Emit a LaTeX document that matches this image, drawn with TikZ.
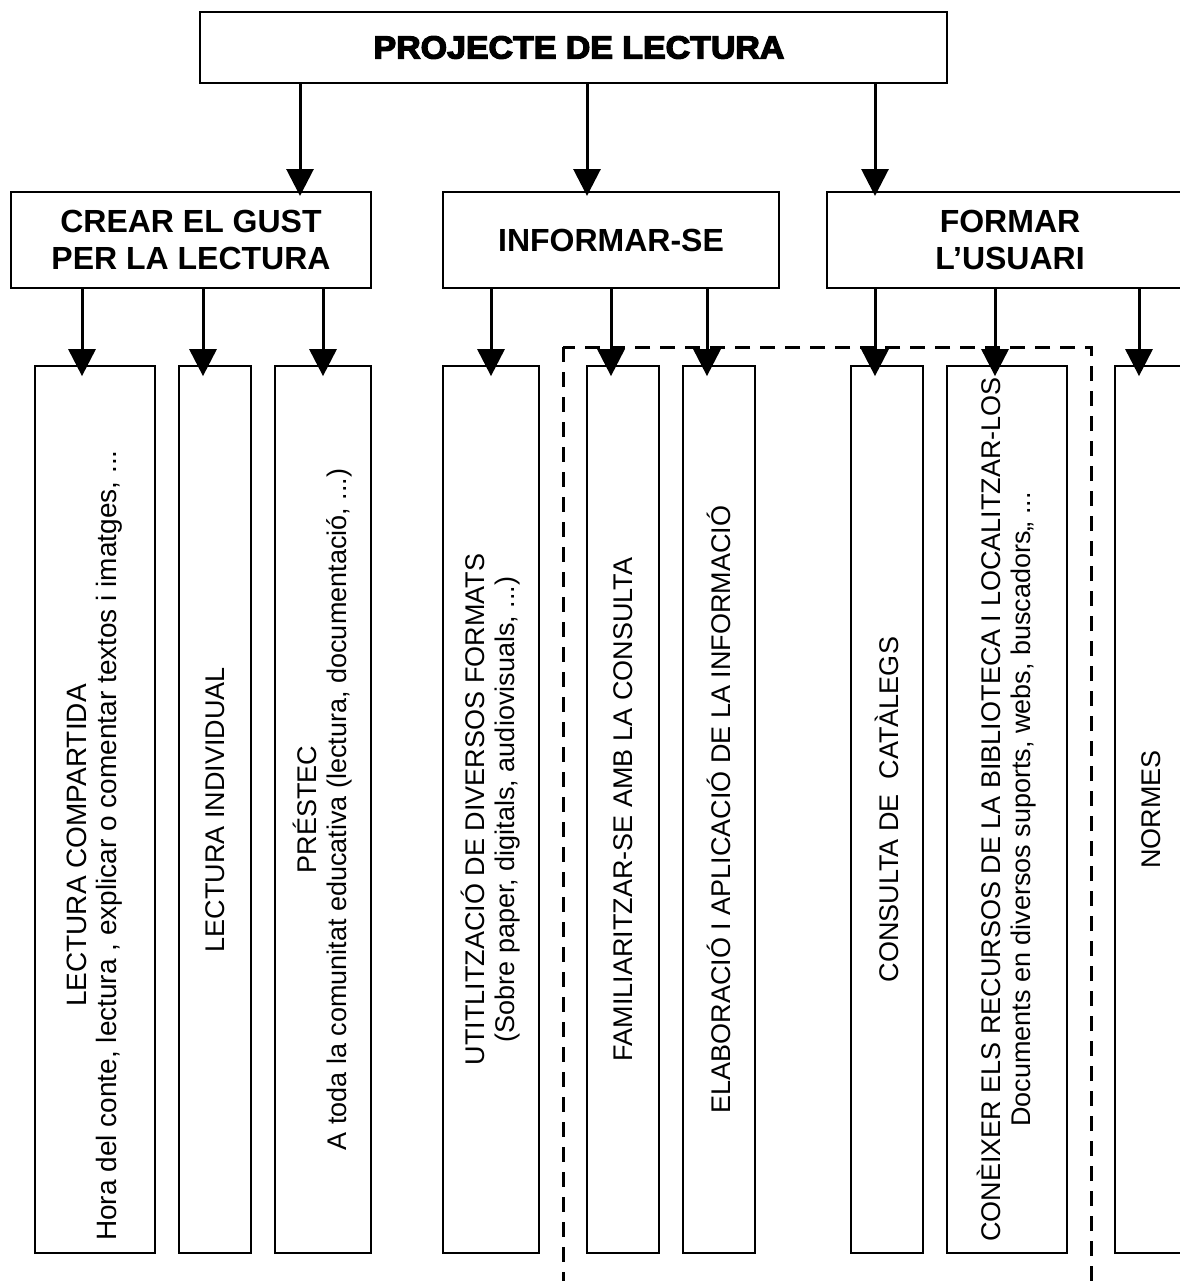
\documentclass[tikz,border=0pt]{standalone}
\usepackage{fontspec}
\setmainfont{Liberation Sans}
\newfontfamily\heavyfont{Liberation Sans}[BoldFeatures={FakeBold=4}]
\usetikzlibrary{arrows.meta,calc}
\begin{document}
\begin{tikzpicture}[x=0.75pt,y=-0.75pt,
  topbox/.style={draw,line width=1.5pt,inner sep=0pt,minimum width=560.25pt,minimum height=53.25pt},
  midbox/.style={draw,line width=1.5pt,inner sep=0pt,minimum height=72pt,align=center,
     font=\fontsize{24pt}{27.75pt}\selectfont\bfseries},
  lowbox/.style={draw,line width=1.3pt,inner sep=0pt,minimum height=665.25pt},
  vtext/.style={rotate=90,inner sep=0pt,align=center,font=\fontsize{20.25pt}{22.5pt}\selectfont},
  arr/.style={line width=2.25pt,-{Triangle[length=20.25pt,width=20.25pt]}},
  grpframe/.style={line width=2.25pt,dash pattern=on 11.25pt off 7.5pt}]
\useasboundingbox (0,0) rectangle (1180,1281);
\clip (0,0) rectangle (1180,1281);
\fill[white] (0,0) rectangle (1180,1281);

% top
\node[topbox] (title) at (573.5,47.5) {};
\node[inner sep=0pt] (titletext) at (579,47.5)
  {\scalebox{1.06}[1]{\fontsize{24pt}{24pt}\selectfont\heavyfont\bfseries PROJECTE DE LECTURA}};

% level 2
\node[midbox,minimum width=270pt] (crear) at (191,240) {CREAR EL GUST\\PER LA LECTURA};
\node[midbox,minimum width=252pt] (info) at (611,240) {INFORMAR-SE};
\node[midbox,minimum width=274.5pt] (formar) at (1010,240) {FORMAR\\L'USUARI};

% level 3 boxes
\node[lowbox,minimum width=90pt] (b1) at (95,809.5) {};
\node[lowbox,minimum width=54pt] (b2) at (215,809.5) {};
\node[lowbox,minimum width=72pt] (b3) at (323,809.5) {};
\node[lowbox,minimum width=72pt] (b4) at (491,809.5) {};
\node[lowbox,minimum width=54pt] (b5) at (623,809.5) {};
\node[lowbox,minimum width=54pt] (b6) at (719,809.5) {};
\node[lowbox,minimum width=54pt] (b7) at (887,809.5) {};
\node[lowbox,minimum width=90pt] (b8) at (1007,809.5) {};
\node[lowbox,minimum width=54pt] (b9) at (1151,809.5) {};

\node[vtext,font=\fontsize{21pt}{22.5pt}\selectfont] (t1) at ($(b1.center)+(0,36)$) {LECTURA COMPARTIDA\\Hora del conte, lectura , explicar o comentar textos i imatges, ...};
\node[vtext] (t2) at (b2.center) {LECTURA INDIVIDUAL};
\node[vtext] (t3) at (b3.center) {PRÉSTEC\\A toda la comunitat educativa (lectura, documentació, ...)};
\node[vtext] (t4) at (b4.center) {UTITLITZACIÓ DE DIVERSOS FORMATS\\(Sobre paper, digitals, audiovisuals, ...)};
\node[vtext] (t5) at (b5.center) {FAMILIARITZAR-SE AMB LA CONSULTA};
\node[vtext] (t6) at (b6.center) {ELABORACIÓ I APLICACIÓ DE LA INFORMACIÓ};
\node[vtext] (t7) at (b7.center) {CONSULTA DE\ \ CATÀLEGS};
\node[vtext] (t8) at (b8.center) {CONÈIXER ELS RECURSOS DE LA BIBLIOTECA I LOCALITZAR-LOS\\Documents en diversos suports, webs, buscadors,, ...};
\node[vtext] (t9) at (b9.center) {NORMES};

% dashed group frame
\coordinate (gtl) at (563,347);
\coordinate (gbr) at (1091,1300);
\draw[grpframe] (gtl) rectangle (gbr);

% arrows level 1 -> 2
\draw[arr] (title.south -| 300,0) -- ($(crear.north -| 300,0)+(0,5)$);
\draw[arr] (title.south -| 587,0) -- ($(info.north -| 587,0)+(0,5)$);
\draw[arr] (title.south -| 875,0) -- ($(formar.north -| 875,0)+(0,5)$);

% arrows level 2 -> 3
\draw[arr] (crear.south -| 82,0) -- ($(b1.north -| 82,0)+(0,11)$);
\draw[arr] (crear.south -| 203,0) -- ($(b2.north -| 203,0)+(0,11)$);
\draw[arr] (crear.south -| 323,0) -- ($(b3.north -| 323,0)+(0,11)$);
\draw[arr] (info.south -| 491,0) -- ($(b4.north -| 491,0)+(0,11)$);
\draw[arr] (info.south -| 611,0) -- ($(b5.north -| 611,0)+(0,11)$);
\draw[arr] (info.south -| 707,0) -- ($(b6.north -| 707,0)+(0,11)$);
\draw[arr] (formar.south -| 875,0) -- ($(b7.north -| 875,0)+(0,11)$);
\draw[arr] (formar.south -| 995,0) -- ($(b8.north -| 995,0)+(0,11)$);
\draw[arr] (formar.south -| 1139,0) -- ($(b9.north -| 1139,0)+(0,11)$);
\end{tikzpicture}
\end{document}
